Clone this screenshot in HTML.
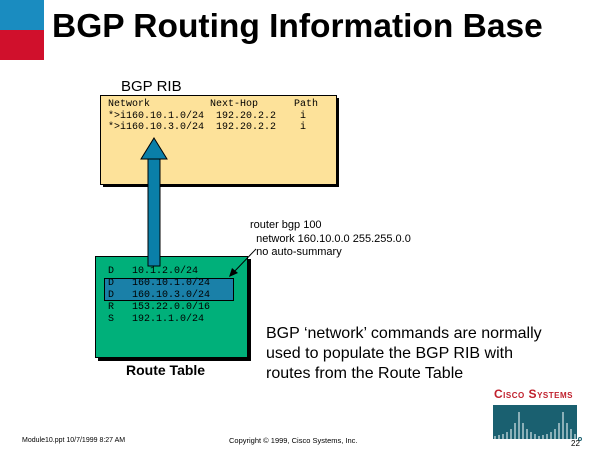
<!DOCTYPE html>
<html><head><style>
body{margin:0;width:600px;height:450px;background:#fff;position:relative;overflow:hidden;font-family:"Liberation Sans",sans-serif}
div,span{position:absolute}
.m{font-family:"Liberation Mono",monospace;font-size:10px;white-space:pre}
</style></head><body>
<div style="left:0;top:0;width:44px;height:30px;background:#1a8cc0"></div>
<div style="left:0;top:30px;width:44px;height:30px;background:#d0102c"></div>
<div style="left:52px;top:8px;font-size:33.5px;font-weight:bold;white-space:nowrap">BGP Routing Information Base</div>
<div style="left:121px;top:78px;font-size:15px">BGP RIB</div>
<div style="left:103px;top:98px;width:236px;height:89px;background:#000"></div>
<div style="left:100px;top:95px;width:235px;height:88px;background:#fde29a;border:1px solid #000"></div>
<div class="m" style="left:108px;top:99px;line-height:11.5px">Network          Next-Hop      Path
*>i160.10.1.0/24  192.20.2.2    i
*>i160.10.3.0/24  192.20.2.2    i</div>
<div style="left:98px;top:259px;width:153px;height:102px;background:#000"></div>
<div style="left:95px;top:256px;width:151px;height:100px;background:#00b07a;border:1px solid #000"></div>
<div style="left:104px;top:278px;width:128px;height:21px;background:#1a80a8;border:1px solid #000"></div>
<div class="m" style="left:108px;top:266px;line-height:12px">D   10.1.2.0/24
D   160.10.1.0/24
D   160.10.3.0/24
R   153.22.0.0/16
S   192.1.1.0/24</div>
<svg style="position:absolute;left:0;top:0" width="600" height="450">
<rect x="148" y="158" width="12" height="108" fill="#0a7fa8" stroke="#000" stroke-width="1"/>
<polygon points="154,138 167,159 141,159" fill="#0a7fa8" stroke="#000"/>
<line x1="256" y1="249" x2="232" y2="274" stroke="#000"/>
<polygon points="229,277 232,268 238,273" fill="#000"/>
</svg>
<div style="left:250px;top:219px;font-size:11px;line-height:13.5px;white-space:pre">router bgp 100
  network 160.10.0.0 255.255.0.0
  no auto-summary</div>
<div style="left:266px;top:324px;font-size:16px;line-height:20px;white-space:nowrap">BGP ‘network’ commands are normally<br>used to populate the BGP RIB with<br>routes from the Route Table</div>
<div style="left:126px;top:362px;font-size:14px;font-weight:bold">Route Table</div>
<div style="left:494px;top:387px;font-size:12px;font-weight:bold;color:#c0202c;font-variant:small-caps;white-space:nowrap;letter-spacing:0.5px">Cisco Systems</div>
<div style="left:493px;top:405px;width:84px;height:34px;background:#1a6070"></div>
<svg style="position:absolute;left:493px;top:405px" width="90" height="36">
<g stroke="#fff" stroke-width="1">
<line x1="2" y1="34" x2="2" y2="31"/><line x1="6" y1="34" x2="6" y2="30"/><line x1="10" y1="34" x2="10" y2="29"/><line x1="14" y1="34" x2="14" y2="27"/><line x1="18" y1="34" x2="18" y2="24"/><line x1="22" y1="34" x2="22" y2="18"/><line x1="26" y1="34" x2="26" y2="7"/><line x1="30" y1="34" x2="30" y2="18"/><line x1="34" y1="34" x2="34" y2="24"/><line x1="38" y1="34" x2="38" y2="27"/><line x1="42" y1="34" x2="42" y2="29"/><line x1="46" y1="34" x2="46" y2="31"/>
<line x1="50" y1="34" x2="50" y2="30"/><line x1="54" y1="34" x2="54" y2="29"/><line x1="58" y1="34" x2="58" y2="27"/><line x1="62" y1="34" x2="62" y2="24"/><line x1="66" y1="34" x2="66" y2="18"/><line x1="70" y1="34" x2="70" y2="7"/><line x1="74" y1="34" x2="74" y2="18"/><line x1="78" y1="34" x2="78" y2="24"/><line x1="82" y1="34" x2="82" y2="29"/></g>
<circle cx="87" cy="34" r="1.5" fill="none" stroke="#1a6070"/>
</svg>
<div style="left:571px;top:439px;font-size:8px">22</div>
<div style="left:22px;top:437px;font-size:7px;white-space:nowrap">Module10.ppt   10/7/1999 8:27 AM</div>
<div style="left:229px;top:436px;font-size:7.5px;white-space:nowrap">Copyright © 1999, Cisco Systems, Inc.</div>
</body></html>
